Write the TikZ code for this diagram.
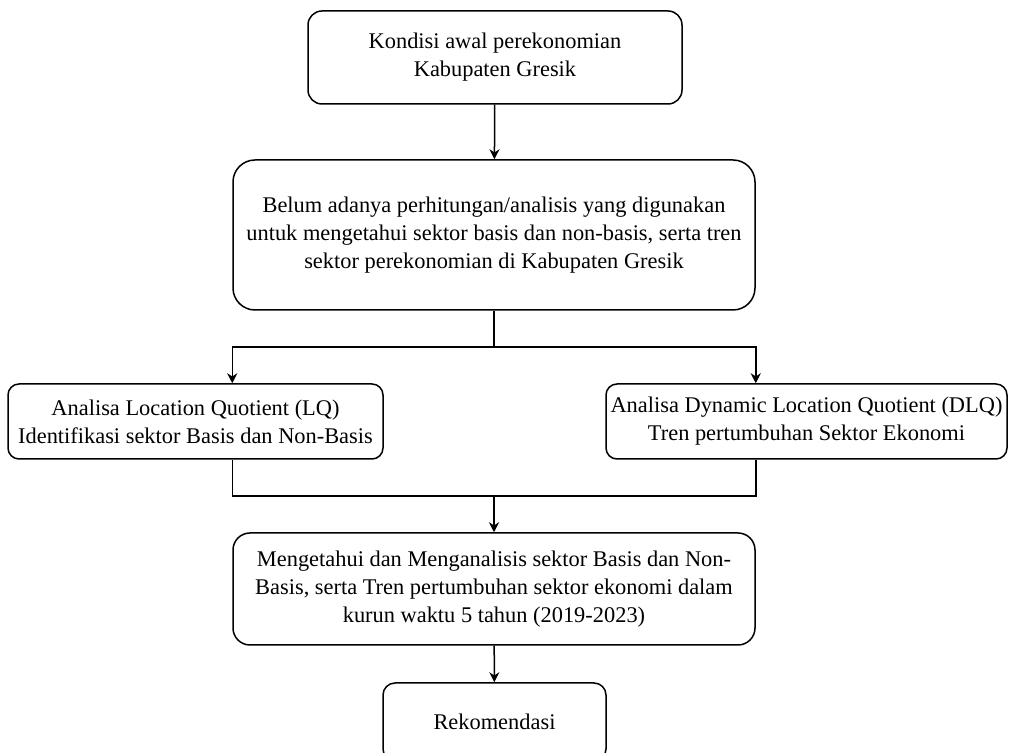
\documentclass[tikz,border=0pt]{standalone}
\usepackage{fontspec}
\setmainfont{Liberation Serif}
\usetikzlibrary{arrows.meta}

\begin{document}
\begin{tikzpicture}[x=0.5pt, y=-0.5pt, >={Stealth[length=5pt,width=5pt]},
  line width=0.75pt,
  block/.style={draw, rounded corners=#1, align=center, inner sep=2pt,
    font=\fontsize{11.2}{14}\selectfont}]

\clip (0,0) rectangle (1009,753);

\node [block=7pt, minimum width=187pt, minimum height=46.5pt] (cond) at (495,57.5)
  {Kondisi awal perekonomian\\Kabupaten Gresik};

\node [block=11pt, minimum width=261pt, minimum height=75pt] (problem) at (494,235)
  {Belum adanya perhitungan/analisis yang digunakan\\
   untuk mengetahui sektor basis dan non-basis, serta tren\\
   sektor perekonomian di Kabupaten Gresik};

\node [block=5.5pt, minimum width=187.5pt, minimum height=37.5pt] (lq) at (195.5,421.5)
  {Analisa Location Quotient (LQ)\\Identifikasi sektor Basis dan Non-Basis};

\node [block=5.5pt, minimum width=200.5pt, minimum height=37.5pt] (dlq) at (806.5,421.5)
  {Analisa Dynamic Location Quotient (DLQ)\\Tren pertumbuhan Sektor Ekonomi};

\node [block=8.5pt, minimum width=261pt, minimum height=56pt] (result) at (494,589)
  {Mengetahui dan Menganalisis sektor Basis dan Non-\\
   Basis, serta Tren pertumbuhan sektor ekonomi dalam\\
   kurun waktu 5 tahun (2019-2023)};

\node [block=6pt, minimum width=111.5pt, minimum height=39pt] (rek) at (494.5,722)
  {Rekomendasi};

\coordinate (split) at (494,347);
\coordinate (merge) at (494,496);

\draw [->] (cond) -- (problem);
\draw (problem.south) -- (split);
\draw [->] (split) -| (lq.north -| problem.south west);
\draw [->] (split) -| (dlq.north -| problem.south east);
\draw (lq.south -| problem.south west) |- (merge);
\draw (dlq.south -| problem.south east) |- (merge);
\draw [->] (merge) -- (result);
\draw [->] (result) -- (rek);

\end{tikzpicture}
\end{document}
